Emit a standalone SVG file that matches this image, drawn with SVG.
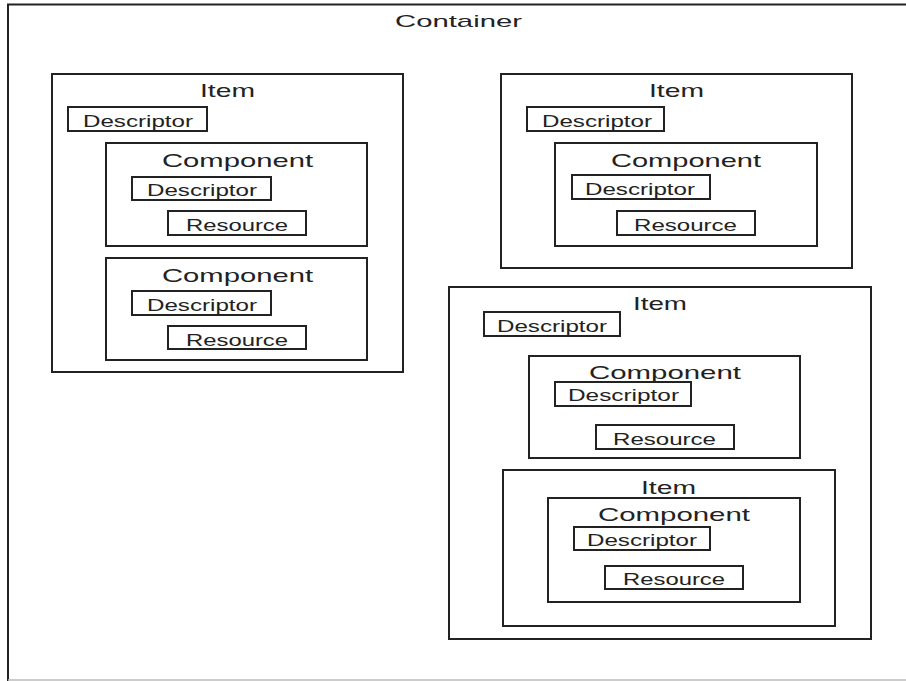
<svg xmlns="http://www.w3.org/2000/svg" width="906" height="681" viewBox="0 0 906 681">
<style>
.box{fill:none;stroke:#222;stroke-width:2}
.t{font-family:"Liberation Sans",Arial,sans-serif;fill:#222;lengthAdjust:spacingAndGlyphs}
.big{font-size:19px}
.small{font-size:16px}
</style>
<rect width="906" height="681" fill="#fff"/>
<g id="container">
<path d="M8 681 V4.5 H906" class="box"/>
<line x1="8" y1="680" x2="906" y2="680" stroke="#bbb" stroke-width="1.5"/>
<text class="t" x="395" y="27" font-size="17" textLength="127" lengthAdjust="spacingAndGlyphs">Container</text>
</g>

<g id="item1">
<rect class="box" x="52" y="74" width="351" height="298"/>
<text class="t big" x="200" y="97" textLength="55" lengthAdjust="spacingAndGlyphs">Item</text>
</g>
<g id="item1-descriptor">
<rect class="box" x="68" y="107" width="139" height="24"/>
<text class="t small" x="83" y="127" textLength="110" lengthAdjust="spacingAndGlyphs">Descriptor</text>
</g>
<g id="component1">
<rect class="box" x="106" y="143" width="261" height="103"/>
<text class="t big" x="162" y="167" textLength="151" lengthAdjust="spacingAndGlyphs">Component</text>
</g>
<g id="component1-descriptor">
<rect class="box" x="132" y="177" width="139" height="23"/>
<text class="t small" x="147" y="196" textLength="110" lengthAdjust="spacingAndGlyphs">Descriptor</text>
</g>
<g id="component1-resource">
<rect class="box" x="168" y="211" width="138" height="24"/>
<text class="t small" x="186" y="231" textLength="102" lengthAdjust="spacingAndGlyphs">Resource</text>
</g>
<g id="component2">
<rect class="box" x="106" y="258" width="261" height="102"/>
<text class="t big" x="162" y="282" textLength="151" lengthAdjust="spacingAndGlyphs">Component</text>
</g>
<g id="component2-descriptor">
<rect class="box" x="132" y="291" width="139" height="24"/>
<text class="t small" x="147" y="311" textLength="110" lengthAdjust="spacingAndGlyphs">Descriptor</text>
</g>
<g id="component2-resource">
<rect class="box" x="168" y="326" width="138" height="23"/>
<text class="t small" x="186" y="346" textLength="102" lengthAdjust="spacingAndGlyphs">Resource</text>
</g>

<g id="item2">
<rect class="box" x="501" y="74" width="351" height="194"/>
<text class="t big" x="649" y="97" textLength="55" lengthAdjust="spacingAndGlyphs">Item</text>
</g>
<g id="item2-descriptor">
<rect class="box" x="527" y="107" width="137" height="24"/>
<text class="t small" x="542" y="127" textLength="110" lengthAdjust="spacingAndGlyphs">Descriptor</text>
</g>
<g id="component3">
<rect class="box" x="555" y="143" width="262" height="103"/>
<text class="t big" x="611" y="167" textLength="150" lengthAdjust="spacingAndGlyphs">Component</text>
</g>
<g id="component3-descriptor">
<rect class="box" x="572" y="175" width="138" height="24"/>
<text class="t small" x="585" y="195" textLength="110" lengthAdjust="spacingAndGlyphs">Descriptor</text>
</g>
<g id="component3-resource">
<rect class="box" x="617" y="211" width="138" height="24"/>
<text class="t small" x="634" y="231" textLength="103" lengthAdjust="spacingAndGlyphs">Resource</text>
</g>

<g id="item3">
<rect class="box" x="449" y="287" width="422" height="352"/>
<text class="t big" x="633" y="310" textLength="54" lengthAdjust="spacingAndGlyphs">Item</text>
</g>
<g id="item3-descriptor">
<rect class="box" x="484" y="312" width="136" height="24"/>
<text class="t small" x="497" y="332" textLength="110" lengthAdjust="spacingAndGlyphs">Descriptor</text>
</g>
<g id="component4">
<rect class="box" x="529" y="356" width="271" height="102"/>
<text class="t big" x="589" y="379" textLength="152" lengthAdjust="spacingAndGlyphs">Component</text>
</g>
<g id="component4-descriptor">
<rect class="box" x="555" y="382" width="136" height="24"/>
<text class="t small" x="568" y="401" textLength="111" lengthAdjust="spacingAndGlyphs">Descriptor</text>
</g>
<g id="component4-resource">
<rect class="box" x="596" y="425" width="138" height="24"/>
<text class="t small" x="613" y="445" textLength="103" lengthAdjust="spacingAndGlyphs">Resource</text>
</g>
<g id="item4">
<rect class="box" x="503" y="470" width="332" height="156"/>
<text class="t big" x="641" y="494" textLength="55" lengthAdjust="spacingAndGlyphs">Item</text>
</g>
<g id="component5">
<rect class="box" x="548" y="498" width="252" height="104"/>
<text class="t big" x="598" y="521" textLength="152" lengthAdjust="spacingAndGlyphs">Component</text>
</g>
<g id="component5-descriptor">
<rect class="box" x="574" y="527" width="136" height="23"/>
<text class="t small" x="587" y="546" textLength="110" lengthAdjust="spacingAndGlyphs">Descriptor</text>
</g>
<g id="component5-resource">
<rect class="box" x="605" y="566" width="138" height="23"/>
<text class="t small" x="623" y="585" textLength="102" lengthAdjust="spacingAndGlyphs">Resource</text>
</g>
<g id="connectors"/>
</svg>
